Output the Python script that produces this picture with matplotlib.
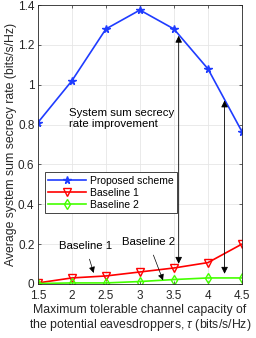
import matplotlib.pyplot as plt

plt.rcParams['font.family'] = ['Liberation Sans', 'DejaVu Sans']
plt.rcParams['mathtext.fontset'] = 'custom'
plt.rcParams['mathtext.it'] = 'Liberation Sans:italic'
plt.rcParams['mathtext.rm'] = 'Liberation Sans'

tau = [1.5, 2, 2.5, 3, 3.5, 4, 4.5]
proposed = [0.81, 1.02, 1.28, 1.375, 1.28, 1.08, 0.765]
baseline1 = [0.005, 0.03, 0.04, 0.06, 0.08, 0.107, 0.2]
baseline2 = [0.002, 0.005, 0.005, 0.012, 0.022, 0.03, 0.03]
yticks = [0, 0.2, 0.4, 0.6, 0.8, 1, 1.2, 1.4]
ytick_labels = ['0', '0.2', '0.4', '0.6', '0.8', '1', '1.2', '1.4']

fig = plt.figure(figsize=(2.56, 3.38), dpi=100)
ax = fig.add_axes([0.148, 0.16, 0.797, 0.825])

ax.plot(tau, proposed, color='#1f3cff', marker='*', markersize=5.5, lw=1.2,
        label='Proposed scheme')
ax.plot(tau, baseline1, color='#ff0000', marker='v', markersize=5.5, lw=1.2,
        markerfacecolor='none', label='Baseline 1')
ax.plot(tau, baseline2, color='#44ff00', marker='d', markersize=5.5, lw=1.2,
        markerfacecolor='none', label='Baseline 2')

ax.set_xlim(1.5, 4.5)
ax.set_ylim(0, 1.4)
ax.set_xticks(tau)
ax.set_xticklabels(['1.5', '2', '2.5', '3', '3.5', '4', '4.5'])
ax.set_yticks(yticks)
ax.set_yticklabels(ytick_labels)
ax.tick_params(direction='in', labelsize=8.5, length=2.5, width=0.5,
               top=True, right=True, colors='#262626', pad=2.5)
ax.tick_params(axis='x', pad=4.5)
ax.grid(True, color='#e6e6e6', lw=0.6)
ax.set_axisbelow(True)
for s in ax.spines.values():
    s.set_linewidth(0.6)
    s.set_color('#262626')

ax.set_xlabel('Maximum tolerable channel capacity of\nthe potential eavesdroppers, $\\tau$ (bits/s/Hz)',
              fontsize=8.8, color='#262626', labelpad=1, linespacing=1.1)
ax.set_ylabel('Average system sum secrecy rate (bits/s/Hz)', fontsize=8.8,
              color='#262626', labelpad=1)

# double arrows
arr = dict(arrowstyle='<|-|>', color='black', lw=0.6, mutation_scale=10)
ax.annotate('', xy=(3.57, 1.26), xytext=(3.57, 0.087), arrowprops=arr)
ax.annotate('', xy=(4.245, 0.935), xytext=(4.245, 0.037), arrowprops=arr)

ax.text(1.96, 0.83, 'System sum secrecy\nrate improvement', fontsize=8.2,
        va='center', ha='left', linespacing=1.15)

ax.annotate('Baseline 1', xy=(2.32, 0.055), xytext=(1.81, 0.19), fontsize=8.2,
            va='center', ha='left',
            arrowprops=dict(arrowstyle='-|>', color='black', lw=0.5,
                            mutation_scale=9, shrinkA=4, shrinkB=0))
ax.annotate('Baseline 2', xy=(3.34, 0.018), xytext=(2.735, 0.21), fontsize=8.2,
            va='center', ha='left',
            arrowprops=dict(arrowstyle='-|>', color='black', lw=0.5,
                            mutation_scale=9, shrinkA=4, shrinkB=0))

leg = ax.legend(loc='upper left', bbox_to_anchor=(0.035, 0.4), fontsize=7.5,
                fancybox=False, edgecolor='#262626', framealpha=1,
                handlelength=3.6, borderpad=0.3, labelspacing=0.2,
                handletextpad=0.4, borderaxespad=0)
leg.get_frame().set_linewidth(0.6)

fig.savefig('out.png', dpi=100)
